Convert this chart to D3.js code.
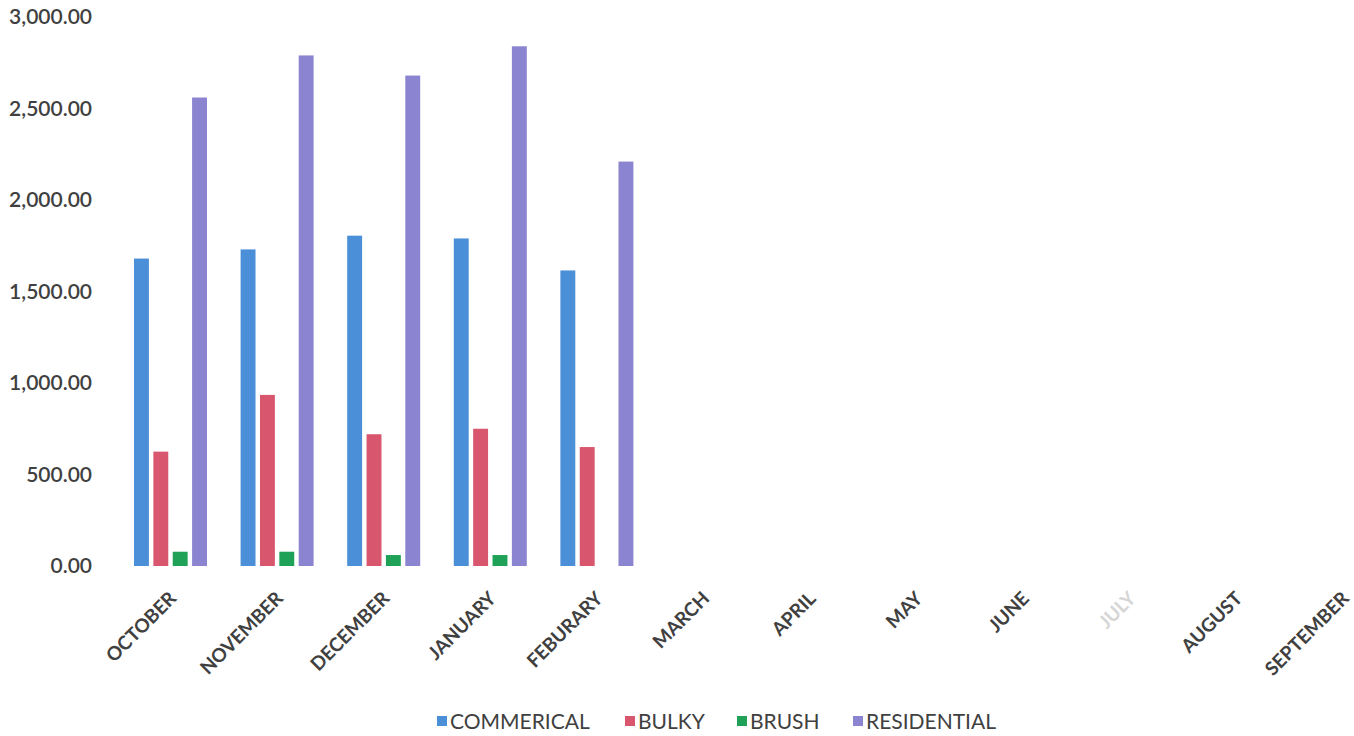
<!DOCTYPE html>
<html>
<head>
<meta charset="utf-8">
<script src="https://cdn.jsdelivr.net/npm/d3@7"></script>
<style>
  html, body { margin: 0; padding: 0; background: #ffffff; }
  svg { display: block; }
</style>
</head>
<body>
<svg id="chart" width="1354" height="736"></svg>
<script>
const months = ["OCTOBER","NOVEMBER","DECEMBER","JANUARY","FEBURARY","MARCH","APRIL","MAY","JUNE","JULY","AUGUST","SEPTEMBER"];
const seriesNames = ["COMMERICAL","BULKY","BRUSH","RESIDENTIAL"];
const commercial  = [1680, 1730, 1805, 1790, 1615, null, null, null, null, null, null, null];
const bulky       = [625, 935, 720, 750, 650, null, null, null, null, null, null, null];
const brush       = [78, 78, 60, 60, 0, null, null, null, null, null, null, null];
const residential = [2560, 2790, 2680, 2840, 2210, null, null, null, null, null, null, null];
const yTicks = [0, 500, 1000, 1500, 2000, 2500, 3000];
const colors = ["#4a8fd8", "#d9566f", "#1fa257", "#8b84d0"];

const seriesValues = [commercial, bulky, brush, residential];
const svg = d3.select("#chart");

const step = 106.6;
const x0 = d3.scaleBand().domain(months).range([117.5, 117.5 + 12 * step]).padding(0);
const x1 = d3.scaleBand().domain(seriesNames).range([16.5, 89.5]).paddingInner(0.23).paddingOuter(0);
const y = d3.scaleLinear().domain([0, 3000]).range([566, 17]);

// y axis labels
const yAxis = d3.axisLeft(y).tickValues(yTicks).tickSize(0).tickPadding(0)
  .tickFormat(d3.format(",.2f"));
const gy = svg.append("g").attr("transform", "translate(92,0)").call(yAxis);
gy.select(".domain").remove();
gy.selectAll("text")
  .attr("fill", "#404040")
  .style("font-family", "Lato, 'Open Sans', sans-serif")
  .style("font-size", "21px")
  .style("font-weight", "600");

// bars
const data = [];
months.forEach((m, i) => {
  seriesNames.forEach((s, j) => {
    const v = seriesValues[j][i];
    if (v !== null && v !== undefined) data.push({ m, s, v, c: colors[j] });
  });
});
svg.append("g").selectAll("rect").data(data).join("rect")
  .attr("x", d => x0(d.m) + x1(d.s))
  .attr("width", x1.bandwidth())
  .attr("y", d => y(d.v))
  .attr("height", d => y(0) - y(d.v))
  .attr("fill", d => d.c);

// x axis labels
const xAxis = d3.axisBottom(x0).tickSize(0).tickPadding(0);
const gx = svg.append("g").call(xAxis);
gx.select(".domain").remove();
gx.selectAll(".tick").attr("transform", d => `translate(${x0(d) + x0.bandwidth() / 2 + 2},595)`);
gx.selectAll("text")
  .attr("y", 0).attr("dy", "0.35em")
  .attr("text-anchor", "end")
  .attr("transform", "rotate(-45)")
  .attr("fill", d => d === "JULY" ? "#d6d6d6" : "#404040")
  .style("font-family", "Lato, 'Open Sans', sans-serif")
  .style("font-size", "19px")
  .style("font-weight", "700");

// legend
const legendX = [437, 625, 737, 853];
const lg = svg.append("g").selectAll("g").data(seriesNames).join("g")
  .attr("transform", (d, i) => `translate(${legendX[i]},721)`);
lg.append("rect").attr("x", 0).attr("y", -5).attr("width", 10).attr("height", 10)
  .attr("fill", (d, i) => colors[i]);
lg.append("text").attr("x", 13).attr("y", 0).attr("dy", "0.36em")
  .attr("fill", "#404040")
  .style("font-family", "Lato, 'Open Sans', sans-serif")
  .style("font-size", "21px")
  .text(d => d);
</script>
</body>
</html>
